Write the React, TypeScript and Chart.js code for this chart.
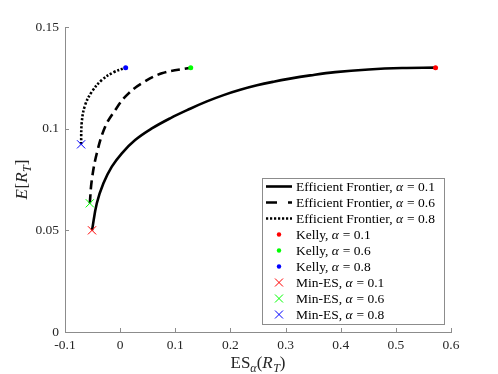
import { useEffect, useRef } from "react";
import { Chart, registerables } from "chart.js";

Chart.register(...registerables);

// ---- data ----
const frontier01X = [-0.051, -0.0423, -0.0303, -0.0151, 0.0031, 0.0272, 0.0575, 0.0907, 0.127, 0.1573, 0.1875, 0.2178, 0.2481, 0.2782, 0.3054, 0.3448, 0.39, 0.4507, 0.5112, 0.572];
const frontier01Y = [0.05, 0.0633, 0.0731, 0.0813, 0.0879, 0.0944, 0.1001, 0.1051, 0.1098, 0.1134, 0.1165, 0.1191, 0.1213, 0.1231, 0.1245, 0.1262, 0.1278, 0.1291, 0.1298, 0.13];

const frontier06X = [-0.055, -0.0514, -0.0423, -0.0272, -0.0091, 0.0121, 0.0394, 0.0757, 0.128];
const frontier06Y = [0.0633, 0.0747, 0.0879, 0.1009, 0.1091, 0.1165, 0.1223, 0.1272, 0.13];

const frontier08X = [-0.0708, -0.0695, -0.0635, -0.0514, -0.0332, -0.0121, 0.01];
const frontier08Y = [0.0923, 0.1034, 0.1116, 0.1181, 0.1239, 0.1277, 0.13];

const kellyX = [0.572, 0.128, 0.01];
const kellyY = [0.13, 0.13, 0.13];

const minEsX = [-0.051, -0.055, -0.0708];
const minEsY = [0.05, 0.0633, 0.0923];

const alphaLabels = ["0.1", "0.6", "0.8"];
const seriesColors = ["#ff0000", "#00ff00", "#0000ff"];

const xTicks = [-0.1, 0, 0.1, 0.2, 0.3, 0.4, 0.5, 0.6];
const xTickLabels = ["-0.1", "0", "0.1", "0.2", "0.3", "0.4", "0.5", "0.6"];
const yTicks = [0, 0.05, 0.1, 0.15];
const yTickLabels = ["0", "0.05", "0.1", "0.15"];

const FONT = '"Liberation Serif", "DejaVu Serif", serif';
const AXIS_COLOR = "#8c8c8c";
const TEXT_COLOR = "#262626";

type Seg = { t: string; it?: boolean; sub?: boolean };

const xTitle: Seg[] = [
  { t: "ES" },
  { t: "α", it: true, sub: true },
  { t: "(" },
  { t: "R", it: true },
  { t: "T", it: true, sub: true },
  { t: ")" },
];
const yTitle: Seg[] = [
  { t: "E", it: true },
  { t: "[" },
  { t: "R", it: true },
  { t: "T", it: true, sub: true },
  { t: "]" },
];

function segFont(s: Seg, size: number) {
  const sz = s.sub ? Math.round(size * 0.7) : size;
  return `${s.it ? "italic " : ""}${sz}px ${FONT}`;
}

function drawRich(ctx: CanvasRenderingContext2D, segs: Seg[], x: number, y: number, size: number, align: "center" | "left") {
  ctx.save();
  ctx.textBaseline = "alphabetic";
  ctx.textAlign = "left";
  let total = 0;
  const widths = segs.map((s) => {
    ctx.font = segFont(s, size);
    const w = ctx.measureText(s.t).width + (s.it && !s.sub ? 0.5 : 0);
    total += w;
    return w;
  });
  let cx = align === "center" ? x - total / 2 : x;
  const base = y + size * 0.35;
  segs.forEach((s, i) => {
    ctx.font = segFont(s, size);
    ctx.fillText(s.t, cx, s.sub ? base + size * 0.25 : base);
    cx += widths[i];
  });
  ctx.restore();
}

function labelSegs(label: string): Seg[] {
  const parts = label.split("α");
  const out: Seg[] = [];
  parts.forEach((p, i) => {
    if (i > 0) out.push({ t: "α", it: true });
    if (p) out.push({ t: p });
  });
  return out;
}

const decorPlugin = {
  id: "decor",
  afterDraw(chart: any) {
    const { ctx, chartArea } = chart;
    const xs = chart.scales.x;
    const ys = chart.scales.y;
    // inward tick marks
    ctx.save();
    ctx.strokeStyle = AXIS_COLOR;
    ctx.lineWidth = 1;
    ctx.beginPath();
    xTicks.forEach((v) => {
      const px = Math.round(xs.getPixelForValue(v)) + 0.5;
      ctx.moveTo(px, chartArea.bottom);
      ctx.lineTo(px, chartArea.bottom - 4);
    });
    yTicks.forEach((v) => {
      const py = Math.round(ys.getPixelForValue(v)) + 0.5;
      ctx.moveTo(chartArea.left, py);
      ctx.lineTo(chartArea.left + 4, py);
    });
    ctx.stroke();
    ctx.restore();

    // axis titles
    ctx.save();
    ctx.fillStyle = TEXT_COLOR;
    drawRich(ctx, xTitle, (chartArea.left + chartArea.right) / 2, 362, 17, "center");
    ctx.translate(21, (chartArea.top + chartArea.bottom) / 2);
    ctx.rotate(-Math.PI / 2);
    drawRich(ctx, yTitle, 0, 0, 17, "center");
    ctx.restore();

    // legend box
    const lx = 262, ly = 178, lw = 182, lh = 146;
    ctx.save();
    ctx.fillStyle = "#ffffff";
    ctx.fillRect(lx, ly, lw, lh);
    ctx.strokeStyle = AXIS_COLOR;
    ctx.lineWidth = 1;
    ctx.strokeRect(lx + 0.5, ly + 0.5, lw, lh);
    chart.data.datasets.forEach((ds: any, i: number) => {
      const cy = ly + 8.5 + i * 16;
      const kind = ds.legendKind;
      ctx.save();
      if (kind === "line") {
        ctx.strokeStyle = ds.borderColor;
        ctx.lineWidth = ds.borderWidth;
        ctx.setLineDash(ds.legendDash || []);
        ctx.beginPath();
        ctx.moveTo(266, cy);
        ctx.lineTo(292, cy);
        ctx.stroke();
      } else if (kind === "dot") {
        ctx.fillStyle = ds.backgroundColor;
        ctx.beginPath();
        ctx.arc(279, cy, 2.2, 0, Math.PI * 2);
        ctx.fill();
      } else {
        ctx.strokeStyle = ds.borderColor;
        ctx.lineWidth = 1;
        ctx.beginPath();
        ctx.moveTo(275, cy - 4);
        ctx.lineTo(283, cy + 4);
        ctx.moveTo(283, cy - 4);
        ctx.lineTo(275, cy + 4);
        ctx.stroke();
      }
      ctx.restore();
      ctx.fillStyle = "#000000";
      drawRich(ctx, labelSegs(ds.label), 296, cy, 13.5, "left");
    });
    ctx.restore();
  },
};

function pts(xsArr: number[], ysArr: number[]) {
  return xsArr.map((x, i) => ({ x, y: ysArr[i] }));
}

export default function App() {
  const ref = useRef<HTMLCanvasElement | null>(null);

  useEffect(() => {
    if (!ref.current) return;
    const frontiers = [
      { x: frontier01X, y: frontier01Y, dash: [], legendDash: [] },
      { x: frontier06X, y: frontier06Y, dash: [9, 5], legendDash: [11, 11] },
      { x: frontier08X, y: frontier08Y, dash: [2.2, 1.8], legendDash: [2.2, 1.8] },
    ];
    const datasets: any[] = [];
    frontiers.forEach((f, i) => {
      datasets.push({
        type: "line",
        label: `Efficient Frontier, α = ${alphaLabels[i]}`,
        data: pts(f.x, f.y),
        borderColor: "#000000",
        backgroundColor: "#000000",
        borderWidth: 2.6,
        borderDash: f.dash,
        legendDash: f.legendDash,
        pointRadius: 0,
        tension: 0.4,
        fill: false,
        order: 3,
        legendKind: "line",
      });
    });
    kellyX.forEach((x, i) => {
      datasets.push({
        type: "scatter",
        label: `Kelly, α = ${alphaLabels[i]}`,
        data: [{ x, y: kellyY[i] }],
        backgroundColor: seriesColors[i],
        borderColor: seriesColors[i],
        borderWidth: 0,
        pointRadius: 2.5,
        order: 2,
        legendKind: "dot",
      });
    });
    minEsX.forEach((x, i) => {
      datasets.push({
        type: "scatter",
        label: `Min-ES, α = ${alphaLabels[i]}`,
        data: [{ x, y: minEsY[i] }],
        pointStyle: "crossRot",
        backgroundColor: seriesColors[i],
        borderColor: seriesColors[i],
        borderWidth: 1,
        pointRadius: 5.8,
        order: 1,
        legendKind: "cross",
      });
    });

    const chart = new Chart(ref.current, {
      type: "scatter",
      data: { datasets },
      options: {
        responsive: false,
        animation: false,
        layout: { padding: { top: 27, right: 47, left: 0, bottom: 0 } },
        plugins: { legend: { display: false }, tooltip: { enabled: false } },
        scales: {
          x: {
            type: "linear",
            min: -0.1,
            max: 0.6,
            afterBuildTicks: (s: any) => {
              s.ticks = xTicks.map((v) => ({ value: v }));
            },
            afterFit: (s: any) => {
              s.height = 42;
            },
            grid: { display: false, drawTicks: false, tickLength: 0 },
            border: { display: true, color: AXIS_COLOR, width: 1 },
            ticks: {
              padding: 5,
              color: TEXT_COLOR,
              font: { family: FONT, size: 13.5 },
              maxRotation: 0,
              callback: (v: any) => xTickLabels[xTicks.findIndex((t) => Math.abs(t - v) < 1e-9)] ?? "",
            },
          },
          y: {
            type: "linear",
            min: 0,
            max: 0.15,
            afterBuildTicks: (s: any) => {
              s.ticks = yTicks.map((v) => ({ value: v }));
            },
            afterFit: (s: any) => {
              s.width = 65;
            },
            grid: { display: false, drawTicks: false, tickLength: 0 },
            border: { display: true, color: AXIS_COLOR, width: 1 },
            ticks: {
              padding: 6,
              color: TEXT_COLOR,
              font: { family: FONT, size: 13.5 },
              callback: (v: any) => yTickLabels[yTicks.findIndex((t) => Math.abs(t - v) < 1e-9)] ?? "",
            },
          },
        },
      } as any,
      plugins: [decorPlugin],
    });
    return () => chart.destroy();
  }, []);

  return (
    <div style={{ position: "absolute", left: 0, top: 0, width: 498, height: 374, background: "#fff" }}>
      <canvas ref={ref} width={498} height={374} style={{ display: "block" }} />
    </div>
  );
}
